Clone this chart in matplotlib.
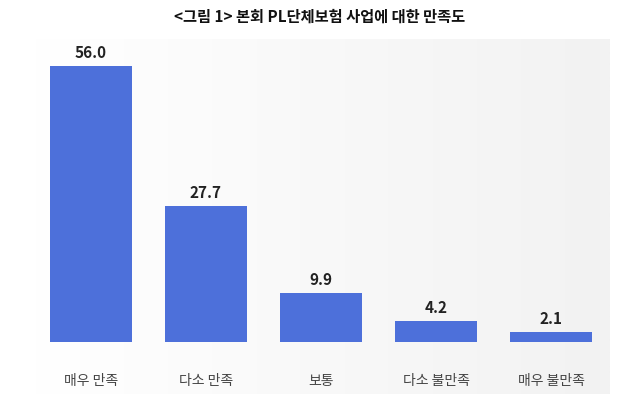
import matplotlib
matplotlib.use("Agg")
import matplotlib.pyplot as plt
import numpy as np

categories = ["매우 만족", "다소 만족", "보통", "다소 불만족", "매우 불만족"]
values = [56.0, 27.7, 9.9, 4.2, 2.1]
title = "<그림 1> 본회 PL단체보험 사업에 대한 만족도"

plt.rcParams['font.family'] = ['Noto Sans CJK KR', 'DejaVu Sans']
W, H = 640, 402
fig = plt.figure(figsize=(W/100, H/100), dpi=100)
fig.patch.set_facecolor("white")

bg = fig.add_axes([35/W, 1-395/H, 575/W, 355/H])
grad = np.linspace(0, 1, 256).reshape(1, -1)
bg.imshow(grad, aspect="auto", cmap=matplotlib.colors.LinearSegmentedColormap.from_list("g", ["#ffffff", "#f2f2f2"]), extent=[0, 1, 0, 1])
bg.axis("off")

ax = fig.add_axes([33.5/W, 1-343/H, 575/W, 303/H])
ax.patch.set_alpha(0)
x = np.arange(len(categories))
ax.bar(x, values, width=0.72, color="#4d70da", edgecolor="none")
ax.set_xlim(-0.5, 4.5)
ax.set_ylim(0, 61.5)
for xi, v in zip(x, values):
    ax.text(xi, v + 1.2, f"{v:.1f}", ha="center", va="bottom", fontsize=11, fontweight="bold", color="#222222")
ax.set_xticks(x)
ax.set_xticklabels(categories, fontsize=10, color="#444444")
ax.tick_params(axis="x", length=0, pad=22)
ax.set_yticks([])
for s in ax.spines.values():
    s.set_visible(False)

fig.text(0.5, 1-17/H, title, ha="center", va="center", fontsize=11, fontweight="bold", color="#111111")
fig.savefig("out.png", dpi=100)
